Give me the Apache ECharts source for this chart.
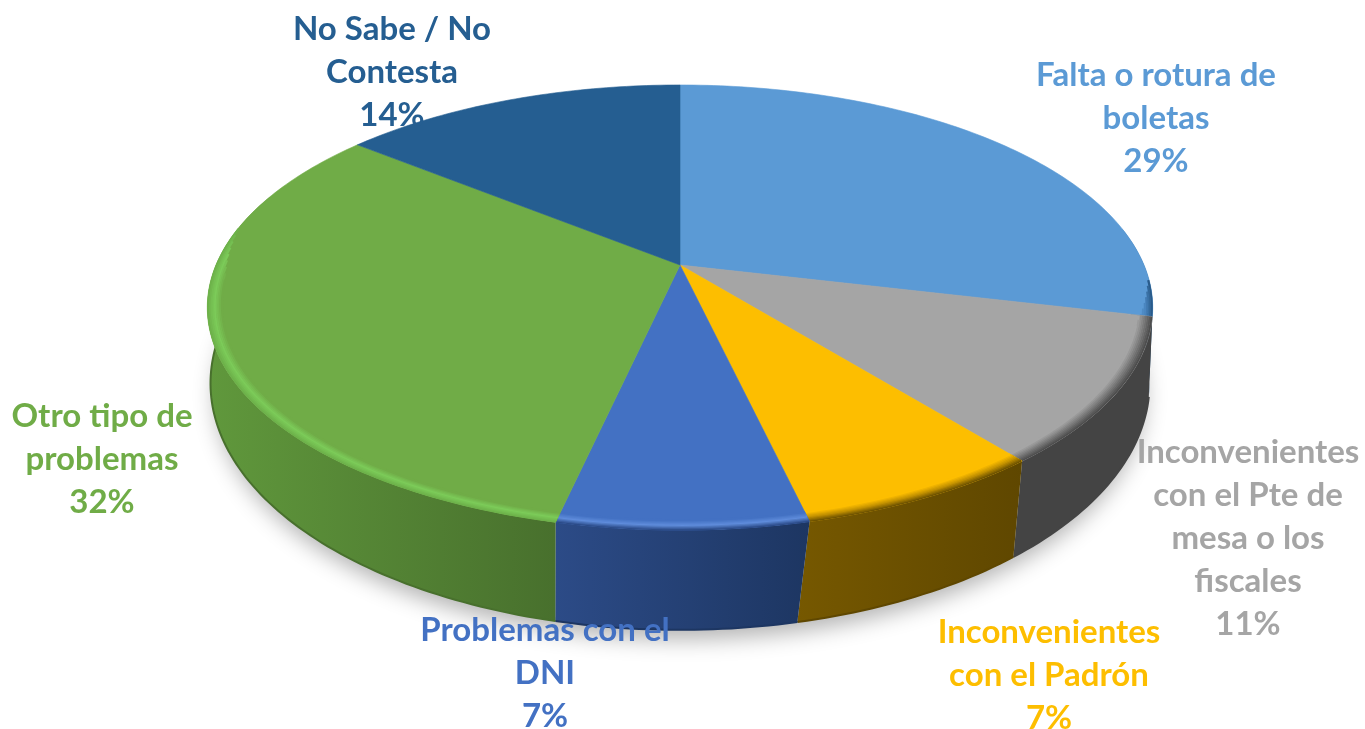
<!DOCTYPE html>
<html>
<head>
<meta charset="utf-8">
<title>Problemas al votar</title>
<script src="https://cdn.jsdelivr.net/npm/echarts@6/dist/echarts.min.js"></script>
<style>
  html, body { margin: 0; padding: 0; background: #fff; }
  #chart { width: 1365px; height: 729px; }
</style>
</head>
<body>
<div id="chart"></div>
<script>
var categories = [
  "Falta o rotura de\nboletas",
  "Inconvenientes\ncon el Pte de\nmesa o los\nfiscales",
  "Inconvenientes\ncon el Padrón",
  "Problemas con el\nDNI",
  "Otro tipo de\nproblemas",
  "No Sabe / No\nContesta"
];
// shares; they round to the printed percentages
var values = [28.7, 10.5, 7.15, 7.15, 32.3, 14.2];

var topColors = ["#5b9ad5", "#a5a5a5", "#fdbe00", "#4371c3", "#70ac47", "#255e91"];
var wallColors = [
  ["#2f6da6", "#1f4e79"],
  ["#444444", "#444444"],
  ["#765800", "#5f4700"],
  ["#2c4b87", "#1d3662"],
  ["#60983c", "#48702d"],
  ["#1d4a72", "#1d4a72"]
];
// rim bevel, outer edge to inner edge
var bevelColors = [
  ["#2a5b8a", "#4a86c0", "#5b9ad5"],
  ["#4e4e4e", "#7a7a7a", "#a5a5a5"],
  ["#6f5300", "#c49200", "#fdbe00"],
  ["#2b4b88", "#5f8cdb", "#4371c3"],
  ["#6db24a", "#7ccb59", "#70ac47"],
  ["#255e91", "#255e91", "#255e91"]
];
// label anchor: centre x, middle of the first line
var labelAnchors = [[1156, 75], [1248, 452], [1049, 632], [545, 630], [102, 416], [392, 29]];

var TOP = { cx: 680, cy: 265, a: 464, b: 214.4, p: 0.191 };
var BOTTOM = { cx: 680, cy: 334, a: 460, b: 236.7, p: 0.2 };
var FONT = "Lato, Carlito, Calibri, sans-serif";

var total = values.reduce(function (s, v) { return s + v; }, 0);
var startAngles = [];
values.reduce(function (s, v, i) { startAngles[i] = s / total * 360; return s + v; }, 0);

// circle point (clockwise degrees from the back) through the tilted view
function project(ring, deg, r) {
  var t = deg * Math.PI / 180;
  var u = Math.sin(t) * r;
  var v = -Math.cos(t) * r;
  var d = 1 - ring.p * v;
  return [ring.cx + ring.a * u / d, ring.cy + ring.b * v / d];
}

function arc(ring, from, to, r) {
  var pts = [];
  var n = Math.max(2, Math.ceil(Math.abs(to - from)));
  for (var i = 0; i <= n; i++) {
    var deg = from + (to - from) * i / n;
    // slice edges lean inward on the right half of the wall
    if (ring === BOTTOM) deg += 1.3 * Math.min(1, Math.max(0, (190 - deg) / 20));
    pts.push(project(ring, deg, r));
  }
  return pts;
}

function sliceRange(i) {
  return [startAngles[i], startAngles[i] + values[i] / total * 360];
}

function renderShadow(params) {
  if (params.dataIndex !== 0) return;
  return {
    type: "polygon",
    shape: { points: arc(BOTTOM, 0, 360, 0.99) },
    style: { fill: "#d9d9d9", shadowBlur: 22, shadowColor: "rgba(0,0,0,0.3)", shadowOffsetY: 13 },
    silent: true
  };
}

function renderWall(params) {
  var i = params.dataIndex;
  var range = sliceRange(i);
  var from = Math.max(range[0], 80);
  var to = Math.min(range[1], 290);
  if (to <= from) return;
  var topEdge = arc(TOP, from, to, 1);
  var lowEdge = arc(BOTTOM, from, to, 1);
  var children = [{
    type: "polygon",
    shape: { points: topEdge.concat(lowEdge.slice().reverse()) },
    style: {
      fill: new echarts.graphic.LinearGradient(0, 0, 1, 0, [
        { offset: 0, color: wallColors[i][0] },
        { offset: 1, color: wallColors[i][1] }
      ])
    }
  }];
  // first slice only shows a sliver of wall, no dark foot line there
  if (i > 0) {
    children.push({
      type: "polyline",
      shape: { points: lowEdge },
      style: { fill: null, stroke: wallColors[i][1], lineWidth: 2 }
    });
  }
  return { type: "group", children: children };
}

function renderTop(params) {
  var i = params.dataIndex;
  var range = sliceRange(i);
  var pts = [project(TOP, 0, 0)].concat(arc(TOP, range[0], range[1], 1));
  var children = [{
    type: "polygon",
    shape: { points: pts },
    style: { fill: topColors[i], stroke: topColors[i], lineWidth: 0.6 }
  }];
  // rings along the front rim make the bevel; inner rings stop earlier so the ends taper
  var rings = 9;
  for (var k = 0; k < rings; k++) {
    var f = k / (rings - 1);
    var from = Math.max(range[0], 94 + f * 12);
    var to = Math.min(range[1], 280 - f * 14);
    if (to <= from) continue;
    children.push({
      type: "polyline",
      shape: { points: arc(TOP, from, to, 0.998 - f * 0.028) },
      style: { fill: null, stroke: echarts.color.lerp(f, bevelColors[i]), lineWidth: 2.2 }
    });
  }
  return { type: "group", children: children };
}

function renderLabel(params) {
  var i = params.dataIndex;
  var pct = Math.round(values[i] / total * 100) + "%";
  return {
    type: "text",
    x: labelAnchors[i][0],
    y: labelAnchors[i][1] - 21,
    style: {
      text: categories[i] + "\n" + pct,
      fill: topColors[i],
      font: "bold 33px " + FONT,
      lineHeight: 43,
      align: "center",
      verticalAlign: "top"
    }
  };
}

var chart = echarts.init(document.getElementById("chart"), null, { renderer: "canvas" });

function customSeries(z, fn) {
  return {
    type: "custom",
    coordinateSystem: "none",
    z: z,
    silent: true,
    clip: false,
    animation: false,
    renderItem: fn,
    data: values
  };
}

chart.setOption({
  backgroundColor: "#ffffff",
  animation: false,
  series: [
    customSeries(1, renderShadow),
    customSeries(2, renderWall),
    customSeries(3, renderTop),
    customSeries(4, renderLabel)
  ]
});
</script>
</body>
</html>
